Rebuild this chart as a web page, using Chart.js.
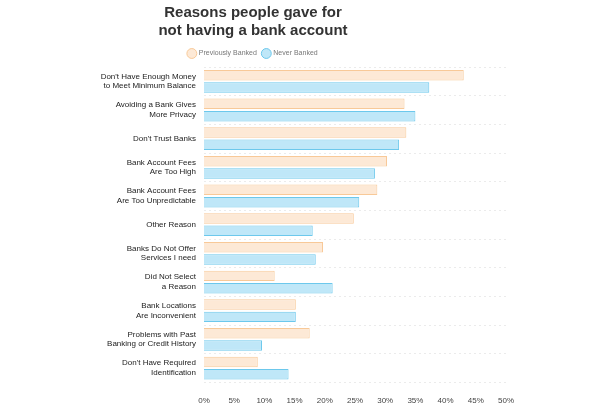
<!DOCTYPE html>
<html><head><meta charset="utf-8">
<script src="https://cdn.jsdelivr.net/npm/chart.js@4"></script>
<style>html,body{margin:0;padding:0;background:#fff}#w{width:600px;height:412px}</style>
</head><body><div id="w"><canvas id="c"></canvas></div>
<script>
const categories = [
  ["Don't Have Enough Money","to Meet Minimum Balance"],
  ["Avoiding a Bank Gives","More Privacy"],
  "Don't Trust Banks",
  ["Bank Account Fees","Are Too High"],
  ["Bank Account Fees","Are Too Unpredictable"],
  "Other Reason",
  ["Banks Do Not Offer","Services I need"],
  ["Did Not Select","a Reason"],
  ["Bank Locations","Are Inconvenient"],
  ["Problems with Past","Banking or Credit History"],
  ["Don't Have Required","Identification"]
];
const previouslyBanked = [43.0, 33.2, 33.5, 30.3, 28.7, 24.8, 19.7, 11.7, 15.2, 17.5, 8.9];
const neverBanked = [37.3, 35.0, 32.3, 28.3, 25.7, 18.0, 18.5, 21.3, 15.2, 9.6, 14.0];
const xTicks = [0,5,10,15,20,25,30,35,40,45,50];
const F = "'Helvetica Neue', Arial, 'Liberation Sans', sans-serif";
new Chart(document.getElementById('c'), {
  type: 'bar',
  data: { labels: categories, datasets: [
    { label: 'Previously Banked', data: previouslyBanked, backgroundColor: '#fde9d6', borderColor: '#f8c998', borderWidth: 1, barPercentage: 0.85, categoryPercentage: 0.86 },
    { label: 'Never Banked', data: neverBanked, backgroundColor: '#bfe7f8', borderColor: '#6cc8ec', borderWidth: 1, barPercentage: 0.85, categoryPercentage: 0.86 }
  ]},
  options: {
    indexAxis: 'y', responsive: true, maintainAspectRatio: false, animation: false,
    layout: { padding: { left: 0, right: 94, top: 4, bottom: 0 } },
    plugins: {
      title: { display: true, text: ['Reasons people gave for','not having a bank account'], color: '#333', font: { family: F, size: 15, weight: 'bold', lineHeight: 1.2 }, padding: { top: 0, bottom: 4 } },
      legend: { labels: { usePointStyle: true, pointStyle: 'circle', boxWidth: 7, boxHeight: 7, color: '#777', font: { family: F, size: 7 }, padding: 6 } },
      tooltip: { enabled: false }
    },
    scales: {
      x: { min: 0, max: 50, afterBuildTicks: a => { a.ticks = xTicks.map(v => ({ value: v })); },
        grid: { display: false }, border: { display: false },
        ticks: { callback: v => v + '%', color: '#444', font: { family: F, size: 8 }, padding: 6 } },
      y: { afterFit: a => { a.width = 204; },
        grid: { offset: true, color: '#e6e6e6', drawTicks: false, lineWidth: 0.8 }, border: { display: false, dash: [2, 3] },
        ticks: { color: '#222', font: { family: F, size: 8 }, padding: 8, autoSkip: false } }
    }
  }
});
</script></body></html>
